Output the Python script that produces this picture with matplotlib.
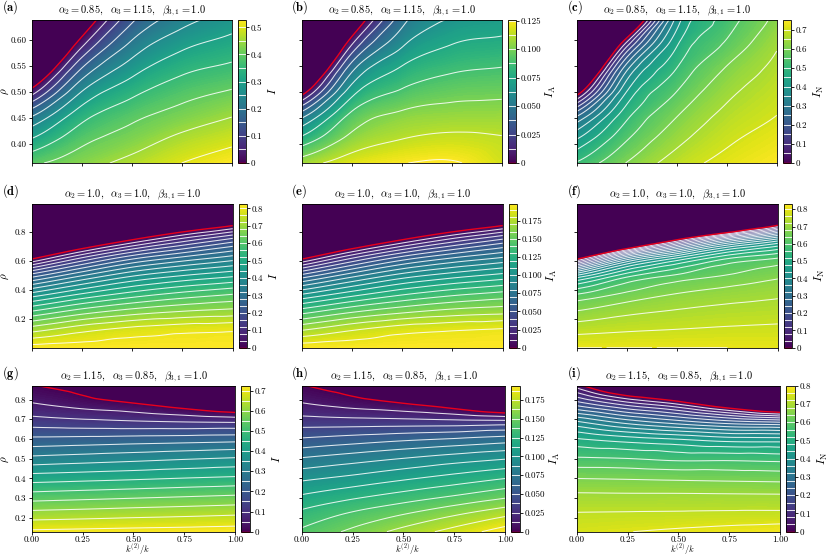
import numpy as np
import matplotlib
matplotlib.use("Agg")
import matplotlib.pyplot as plt
import matplotlib.tri as mtri
from matplotlib.colors import Normalize
from matplotlib.cm import ScalarMappable
from matplotlib.ticker import FuncFormatter, FormatStrFormatter

plt.rcParams.update({
    "font.family": "serif",
    "font.serif": ["cmr10"],
    "mathtext.fontset": "cm",
    "axes.unicode_minus": False,
    "axes.formatter.use_mathtext": True,
    "font.size": 7,
})

# ---------------- data ----------------
k_frac = [0.0, 0.25, 0.5, 0.75, 1.0]            # k^(2)/k
rho_row1 = [0.3625, 0.4083, 0.4542, 0.5, 0.5458, 0.5917, 0.6375]
rho_row2 = [0.005, 0.1281, 0.2512, 0.3744, 0.4975, 0.6206, 0.7438, 0.8669, 0.99]
rho_row3 = [0.13, 0.2225, 0.315, 0.4075, 0.5, 0.5925, 0.685, 0.7775, 0.87]

# each list: one column (fixed k^(2)/k), values along rho (bottom -> top)
I_a = [[0.39, 0.303, 0.193, 0.023, -0.15, -0.3, -0.45],
       [0.43, 0.385, 0.33, 0.25, 0.148, 0.033, -0.08],
       [0.465, 0.424, 0.386, 0.335, 0.275, 0.21, 0.14],
       [0.50, 0.462, 0.419, 0.38, 0.335, 0.285, 0.23],
       [0.527, 0.487, 0.447, 0.404, 0.36, 0.318, 0.275]]
IA_b = [[0.107, 0.079, 0.045, -0.009, -0.065, -0.12, -0.175],
        [0.119, 0.104, 0.0905, 0.0696, 0.0445, 0.011, -0.027],
        [0.1245, 0.1125, 0.1025, 0.089, 0.076, 0.060, 0.045],
        [0.1262, 0.1155, 0.1054, 0.0955, 0.085, 0.0747, 0.064],
        [0.117, 0.1134, 0.1059, 0.097, 0.0877, 0.078, 0.069]]
IN_c = [[0.505, 0.40, 0.24, -0.05, -0.35, -0.65, -0.95],
        [0.602, 0.546, 0.485, 0.4, 0.279, 0.069, -0.24],
        [0.674, 0.635, 0.597, 0.55, 0.499, 0.442, 0.37],
        [0.717, 0.69, 0.664, 0.636, 0.603, 0.558, 0.521],
        [0.748, 0.724, 0.70, 0.682, 0.664, 0.643, 0.615]]
I_d = [[0.82, 0.704, 0.565, 0.411, 0.224, -0.015, -0.26, -0.5, -0.75],
       [0.822, 0.747, 0.622, 0.481, 0.321, 0.122, -0.12, -0.36, -0.6],
       [0.825, 0.774, 0.66, 0.534, 0.397, 0.227, 0.002, -0.23, -0.46],
       [0.825, 0.788, 0.683, 0.571, 0.442, 0.290, 0.099, -0.13, -0.36],
       [0.825, 0.794, 0.696, 0.597, 0.474, 0.338, 0.177, -0.047, -0.27]]
IA_e = [[0.197, 0.169, 0.136, 0.099, 0.054, -0.004, -0.062, -0.12, -0.18],
        [0.197, 0.179, 0.149, 0.115, 0.077, 0.029, -0.029, -0.086, -0.144],
        [0.198, 0.186, 0.158, 0.128, 0.095, 0.054, 0.0005, -0.055, -0.11],
        [0.198, 0.189, 0.164, 0.137, 0.106, 0.070, 0.024, -0.031, -0.086],
        [0.198, 0.191, 0.167, 0.143, 0.114, 0.081, 0.042, -0.011, -0.065]]
IN_f = [[0.80, 0.745, 0.684, 0.597, 0.41, -0.038, -0.65, -1.3, -1.9],
        [0.80, 0.755, 0.71, 0.648, 0.548, 0.28, -0.3, -0.9, -1.5],
        [0.80, 0.761, 0.725, 0.681, 0.609, 0.441, 0.006, -0.6, -1.2],
        [0.80, 0.766, 0.735, 0.698, 0.644, 0.552, 0.24, -0.4, -1.0],
        [0.797, 0.769, 0.741, 0.711, 0.671, 0.598, 0.38, -0.096, -0.65]]
I_g = [[0.71, 0.616, 0.518, 0.419, 0.315, 0.218, 0.126, 0.054, 0.004],
       [0.714, 0.622, 0.526, 0.427, 0.325, 0.223, 0.116, 0.0295, -0.029],
       [0.718, 0.629, 0.534, 0.435, 0.335, 0.229, 0.108, 0.005, -0.1],
       [0.721, 0.635, 0.542, 0.444, 0.346, 0.234, 0.102, -0.034, -0.16],
       [0.725, 0.642, 0.55, 0.452, 0.356, 0.24, 0.098, -0.09, -0.27]]
IA_h = [[0.14, 0.128, 0.113, 0.096, 0.0762, 0.0531, 0.0317, 0.0135, 0.001],
        [0.153, 0.139, 0.121, 0.102, 0.082, 0.0575, 0.031, 0.0074, -0.009],
        [0.167, 0.149, 0.129, 0.109, 0.088, 0.062, 0.0307, 0.001, -0.025],
        [0.18, 0.16, 0.137, 0.116, 0.094, 0.066, 0.030, -0.01, -0.045],
        [0.194, 0.171, 0.146, 0.123, 0.0993, 0.0705, 0.0304, -0.033, -0.1]]
IN_i = [[0.75, 0.722, 0.686, 0.635, 0.566, 0.491, 0.368, 0.183, 0.02],
        [0.759, 0.7235, 0.685, 0.632, 0.561, 0.468, 0.305, 0.102, -0.13],
        [0.768, 0.725, 0.685, 0.628, 0.55, 0.45, 0.26, 0.036, -0.23],
        [0.777, 0.727, 0.684, 0.625, 0.55, 0.43, 0.22, -0.075, -0.45],
        [0.785, 0.728, 0.683, 0.622, 0.545, 0.427, 0.2, -0.19, -0.6]]

titles = [r"$\alpha_2 = 0.85,\ \ \alpha_3 = 1.15,\ \ \beta_{3,1} = 1.0$",
          r"$\alpha_2 = 1.0,\ \ \alpha_3 = 1.0,\ \ \beta_{3,1} = 1.0$",
          r"$\alpha_2 = 1.15,\ \ \alpha_3 = 0.85,\ \ \beta_{3,1} = 1.0$"]
panel_letters = ["a", "b", "c", "d", "e", "f", "g", "h", "i"]
cbar_names = [r"$I$", r"$I_{\mathrm{A}}$", r"$I_{\mathrm{N}}$"]
fields = [I_a, IA_b, IN_c, I_d, IA_e, IN_f, I_g, IA_h, IN_i]
rho_rows = [rho_row1, rho_row2, rho_row3]
cbar_max = [0.527, 0.1255, 0.75, 0.825, 0.198, 0.83, 0.725, 0.194, 0.80]
line_step = [0.05, 0.0125, 0.05, 0.04, 0.01, 0.04, 0.05, 0.0125, 0.04]
cbar_tick_step = [0.1, 0.025, 0.1, 0.1, 0.025, 0.1, 0.1, 0.025, 0.1]
cbar_decimals = [1, 3, 1, 1, 3, 1, 1, 3, 1]
rho_ticks = [[0.40, 0.45, 0.50, 0.55, 0.60],
             [0.2, 0.4, 0.6, 0.8],
             [0.2, 0.3, 0.4, 0.5, 0.6, 0.7, 0.8]]
rho_fmt = ["%.2f", "%.1f", "%.1f"]
k_ticks = [0.0, 0.25, 0.5, 0.75, 1.0]

# ---------------- layout (pixels) ----------------
W, H = 830, 556
fig = plt.figure(figsize=(W / 100, H / 100), dpi=100)
row_px = [(20, 163), (204, 347.7), (385.7, 531.7)]
col_left = [31.7, 301.7, 576.7]
row_width = [200, 201, 203.5]
label_x = [2, 291, 567]
cb_gap, cb_w = 6, 8.5
cb_label_off = [34.5, 43.5, 36.5]


def fx(px):
    return px / W


def fy(py):
    return 1 - py / H


def grid_triangles(nx, ny):
    tris = []
    for i in range(ny - 1):
        for j in range(nx - 1):
            n00 = i * nx + j
            n01 = n00 + 1
            n10 = n00 + nx
            n11 = n10 + 1
            tris.append([n00, n01, n11])
            tris.append([n00, n11, n10])
    return np.array(tris)


cmap = plt.get_cmap("viridis")

for idx in range(9):
    r, c = divmod(idx, 3)
    top, bot = row_px[r]
    left = col_left[c]
    wid = row_width[r]
    ax = fig.add_axes([fx(left), fy(bot), wid / W, (bot - top) / H])
    cax_left = left + wid + cb_gap
    cax = fig.add_axes([fx(cax_left), fy(bot), cb_w / W, (bot - top) / H])

    rho = np.array(rho_rows[r])
    kx = np.array(k_frac)
    X, Y = np.meshgrid(kx, rho)
    Z = np.array(fields[idx]).T
    vmax = cbar_max[idx]
    norm = Normalize(0, vmax)

    # smooth rendering of the coarse grid with matplotlib's triangulation tools
    yn = (rho - rho[0]) / (rho[-1] - rho[0])
    dzdy, dzdx = np.gradient(Z, yn, kx, edge_order=1)
    tri0 = mtri.Triangulation(X.ravel(), np.meshgrid(kx, yn)[1].ravel(),
                              grid_triangles(len(kx), len(rho)))
    interp = mtri.CubicTriInterpolator(tri0, Z.ravel(), kind="user",
                                       dz=(dzdx.ravel(), dzdy.ravel()))
    refiner = mtri.UniformTriRefiner(tri0)
    tri_f, z_f = refiner.refine_field(Z.ravel(), triinterpolator=interp, subdiv=4)
    tri_plot = mtri.Triangulation(tri_f.x, rho[0] + tri_f.y * (rho[-1] - rho[0]),
                                  tri_f.triangles)

    cf = ax.tricontourf(tri_plot, z_f, levels=np.linspace(0, vmax, 120), cmap=cmap,
                        norm=norm, extend="both")
    cf.set_edgecolor("face")
    cf.set_linewidth(0.25)
    step = line_step[idx]
    nlev = int(np.floor(vmax / step + 1e-6))
    wl = step * np.arange(1, nlev + 1)
    cs_w = ax.tricontour(tri_plot, z_f, levels=wl, colors="white",
                         linewidths=0.75, alpha=0.85)
    cs_r = ax.tricontour(tri_plot, z_f, levels=[0.0], colors="#e8001c", linewidths=1.0)

    ax.set_xlim(0, 1)
    ax.set_ylim(rho[0], rho[-1])
    ax.set_xticks(k_ticks)
    ax.set_yticks(rho_ticks[r])
    ax.tick_params(labelsize=6.5, length=2.5, width=0.6, pad=1.5)
    ax.tick_params(axis="x", pad=0.5)
    for s in ax.spines.values():
        s.set_linewidth(0.6)
    if r == 2:
        ax.xaxis.set_major_formatter(FormatStrFormatter("%.2f"))
        fig.text(fx(left + wid / 2 + 4), fy(552.8), r"$k^{(2)}/k$", fontsize=6.3,
                 ha="center", va="baseline")
    else:
        ax.set_xticklabels([])
    if c == 0:
        ax.yaxis.set_major_formatter(FormatStrFormatter(rho_fmt[r]))
        fig.text(fx(5.5), fy((top + bot) / 2), r"$\rho$", fontsize=8, rotation=90,
                 ha="center", va="center")
    else:
        ax.set_yticklabels([])
    ax.set_title(titles[r], fontsize=7.5, pad=5)
    fig.text(fx(label_x[c]), fy(top - 12.5), r"$\mathbf{(%s)}$" % panel_letters[idx],
             fontsize=9, ha="left", va="center")

    sm = ScalarMappable(norm=norm, cmap=cmap)
    tstep = cbar_tick_step[idx]
    nt = int(np.floor(vmax / tstep + 1e-6))
    cb = fig.colorbar(sm, cax=cax, ticks=tstep * np.arange(0, nt + 1))
    dec = cbar_decimals[idx]
    cb.ax.yaxis.set_major_formatter(FuncFormatter(
        lambda v, p, d=dec: "0" if abs(v) < 1e-12 else f"{v:.{d}f}"))
    cb.ax.tick_params(labelsize=6.5, length=2.5, width=0.6, pad=1)
    cb.outline.set_linewidth(0.6)
    cb.add_lines(cs_w)
    cb.add_lines(cs_r, erase=False)
    fig.text(fx(cax_left + cb_label_off[c]), fy((top + bot) / 2), cbar_names[c],
             fontsize=8.5, rotation=90, ha="center", va="center")

fig.savefig("out.png", dpi=100)
